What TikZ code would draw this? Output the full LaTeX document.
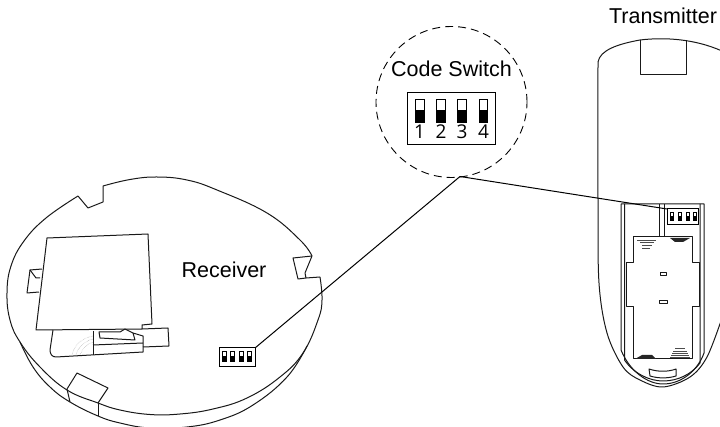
\documentclass[tikz,border=0pt]{standalone}
\usepackage{fontspec}
\setmainfont{Liberation Sans}
\newfontfamily\digitfont{Open Sans}
\tikzset{
  ln/.style={draw=black!90,line width=1pt,line join=round},
  thin ln/.style={draw=black!90,line width=0.7pt,line join=round},
  label text/.style={font=\fontsize{21.5}{24}\selectfont,text=black,inner sep=0pt,anchor=base},
  digit/.style={font=\digitfont\fontsize{19}{22}\selectfont,text=black,inner sep=0pt,anchor=base},
  swbox/.style={draw=black,line width=1pt,fill=white,inner sep=0pt,outer sep=0pt,anchor=north west},
  conn/.style={draw=black,line width=1pt},
  dots/.style={draw=black!45,line width=0.4pt,densely dotted},
  tg/.style={draw=black,line width=0.7pt,fill=white},
}
\newcommand{\toggle}[6]{%
  \draw[tg] (#1,#3) rectangle (#2,#5);
  \fill[black] (#1,#4) rectangle (#2,#5);
}
\begin{document}
\begin{tikzpicture}[x=1pt,y=-1pt]
\useasboundingbox (0,0) rectangle (720,427);
\clip (0,0) rectangle (720,427);
% ---- receiver outline
\draw[ln] plot[smooth,tension=.7] coordinates {(103,186) (130,179.5) (157,177) (187,180) (217,190) (267,213) (300,240) (312,256)};
\draw[ln] (312,256) -- (293,258) -- (298,279) -- (306,278) -- (305,273) -- cycle;
\draw[ln] (306,278) -- (320,277);
\draw[ln] (103,186) -- (103,202) -- (88,208) -- (78,196);
\draw[ln] plot[smooth,tension=.7] coordinates {(78,196) (46,218) (24,241) (11,266) (7,293) (10,320) (20,342) (40,367) (67,390) (98,403) (120,410) (150,414.5) (180,414) (213,409) (247,398) (280,377) (303,353) (318,320) (322,300) (320,277)};
% lower rim
\draw[ln] plot[smooth,tension=.7] coordinates {(20,342) (33,367) (50,387) (70,402) (98,416) (120,423) (150,428) (187,427) (220,420) (253,405) (287,377) (307,346)};
% bottom tab
\draw[ln] (67,389) -- (77,373) -- (108,388) -- (98,403);
\draw[ln] (67,389) -- (70,402);
\draw[ln] (98,403) -- (98,416);
% plate
\draw[ln] (47,238) -- (148,234) -- (152,324) -- (142,325) -- (142,329) -- (36,330) -- cycle;
\draw[ln] (42,269) -- (30,270) -- (27,293) -- (39,292);
\draw[ln] (30,270) -- (36,278) -- (40,278);
\draw[ln] (142,329) -- (168,328) -- (169,346) -- (143,347);
\draw[ln] (53,330) -- (50,350) .. controls (50,354) and (52,357) .. (56,357) -- (143,352) -- (143,336) -- (133,333) -- (125,329) -- (120,332) -- (99,332) -- (100,338) -- (135,340) -- (133,333);
\draw[ln] (93,331) -- (93,355);
\draw[ln] (93,345) -- (143,343);
\draw[dots] (72,355) .. controls (74,345) and (82,338) .. (93,336);
\draw[dots] (76,355) .. controls (78,347) and (85,341) .. (93,339);
\draw[dots] (80,355) .. controls (82,349) and (87,344) .. (93,342);
% ---- transmitter
\draw[ln] (598,62) .. controls (600,50) and (618,44) .. (640,40) .. controls (665,37) and (695,39) .. (722,51);
\draw[ln] (640,40) -- (640,75) -- (686,75) -- (686,40);
\draw[ln] plot[smooth,tension=.55] coordinates {(598,62) (598,200) (599,283) (607,333) (623,367) (640,380) (663,387) (690,377) (707,357) (722,318)};
\draw[ln] (621,204) -- (621,350) .. controls (630,372) and (648,384) .. (663,384) .. controls (682,384) and (698,370) .. (704,353) -- (704,204) -- cycle;
\draw[ln] (624.5,204) -- (624.5,360) .. controls (634,374) and (650,381) .. (663,381) .. controls (678,381) and (692,374) .. (700,363) -- (700,204);
\draw[ln] (659,204) -- (659,237);
\draw[ln] (664.5,204) -- (664.5,237);
\draw[ln] (633,237) -- (633,263) -- (626,263) -- (626,307) -- (633,307) -- (633,359) -- (692,359) -- (692,307) -- (699,307) -- (699,263) -- (692,263) -- (692,237) -- cycle;
\foreach \y/\a/\b in {240/637/656,242.5/640/654,245/642/652,248.5/642/650,348/675/685,351/673/687,353/672/688,355/671/689,357.5/670/690}
  \draw[draw=black!70,line width=0.6pt] (\a,\y) -- (\b,\y);
\fill[black!85] (670,238) -- (690,238) -- (683,242) -- (675,242) -- cycle;
\fill[black!85] (635,359) -- (642,355) -- (652,355) -- (656,359) -- cycle;
\draw[thin ln] (660,272) rectangle (666,275);
\draw[thin ln] (659,300.5) rectangle (667,303.5);
\draw[ln] (649,369) .. controls (658,372) and (668,372) .. (676,369) -- (676,376) .. controls (668,378.5) and (658,378.5) .. (650,376) -- cycle;
% ---- dashed zoom circle
\node[draw=black,line width=0.9pt,dash pattern=on 8pt off 5pt,circle,minimum size=151pt,inner sep=0pt,outer sep=0pt] (lens) at (451.5,102) {};
\coordinate (junction) at (460,176.5);
% ---- switches
\node[swbox,minimum width=36pt,minimum height=19pt] (rxsw) at (219,348) {};
\node[swbox,minimum width=31pt,minimum height=16pt] (txsw) at (667,209) {};
\node[swbox,minimum width=88pt,minimum height=52pt] (bigsw) at (407,93) {};
\draw[conn] (junction) -- (rxsw.north east);
\draw[conn] (junction) -- (txsw.north west);
\foreach \x in {222,230.5,239,247.5}{\toggle{\x}{\x+4}{351}{356}{361}{}}
\foreach \x in {670,678,686,693}{\toggle{\x}{\x+3}{212}{216}{220}{}}
\foreach \x in {415.5,436.5,457.5,479}{\toggle{\x}{\x+8.5}{99.5}{110}{122}{}}
\node[digit] (d1) at (419.5,138.5) {1};
\node[digit] (d2) at (441,138.5) {2};
\node[digit] (d3) at (462,138.5) {3};
\node[digit] (d4) at (483.5,138.5) {4};
% ---- labels
\node[label text] (code) at (451.5,77) {Code Switch};
\node[label text] (tx) at (663,24) {Transmitter};
\node[label text] (rx) at (224,278) {Receiver};
\end{tikzpicture}
\end{document}
